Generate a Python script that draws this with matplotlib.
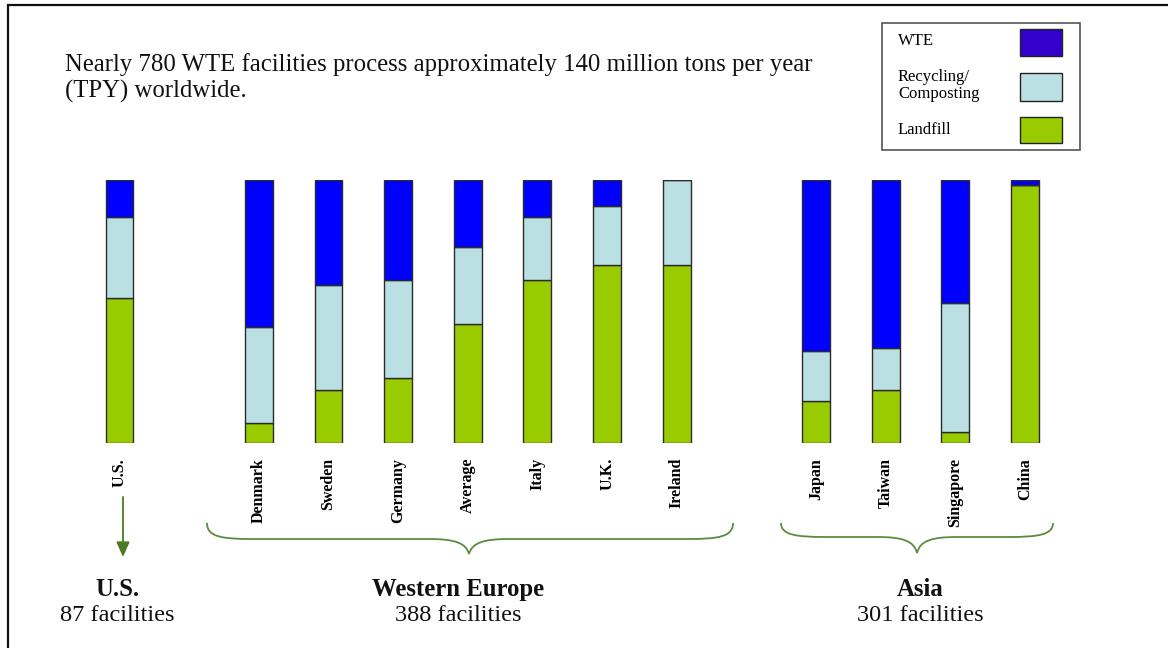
import numpy as np
import matplotlib
matplotlib.use("Agg")
import matplotlib.pyplot as plt
from matplotlib.path import Path
from matplotlib.patches import PathPatch, Rectangle

plt.rcParams["font.family"] = ["Liberation Serif", "DejaVu Serif"]

# Share of municipal solid waste by treatment route [%]
countries = ["U.S.", "Denmark", "Sweden", "Germany", "Average", "Italy",
             "U.K.", "Ireland", "Japan", "Taiwan", "Singapore", "China"]
slots = [0, 2, 3, 4, 5, 6, 7, 8, 10, 11, 12, 13]
wte = [14, 56, 40, 38, 25.5, 14, 10, 0, 65, 64, 47, 2]
recycling = [31, 36.5, 40, 37.5, 29.5, 24, 22.5, 32.5, 19, 16, 49, 0]
landfill = [55, 7.5, 20, 24.5, 45, 62, 67.5, 67.5, 16, 20, 4, 98]

regions = ["U.S.", "Western Europe", "Asia"]
facilities = ["87 facilities", "388 facilities", "301 facilities"]

c_wte = "#0000FF"
c_wte_key = "#3300CC"
c_rec = "#BBE0E3"
c_land = "#99CC00"
c_green = "#5B8C3E"

W, H = 1168, 648
fig = plt.figure(figsize=(W / 100, H / 100), dpi=100)

# overlay in pixel units for the frame, key, braces and captions
ov = fig.add_axes([0, 0, 1, 1])
ov.set_xlim(0, W)
ov.set_ylim(H, 0)
ov.axis("off")

ov.plot([7.5, 7.5, W], [H, 5, 5], color="#111111", lw=1.6,
        solid_joinstyle="miter")

ov.text(65, 71, "Nearly 780 WTE facilities process approximately 140 million tons per year",
        fontsize=17.8, va="baseline", ha="left", color="#111111")
ov.text(65, 97.5, "(TPY) worldwide.", fontsize=17.8, va="baseline", ha="left",
        color="#111111")

# key box
ov.add_patch(Rectangle((882, 23), 198, 127, fill=False, ec="#555555", lw=1.2))
swatches = [(c_wte_key, 29, 27), (c_rec, 73, 28), (c_land, 117, 26)]
for col, ytop, hgt in swatches:
    ov.add_patch(Rectangle((1020, ytop), 42, hgt, fc=col, ec="#222222", lw=1.0))
for label, ytxt in [("WTE", 41), ("Recycling/", 77), ("Composting", 94.5),
                    ("Landfill", 130)]:
    ov.text(898, ytxt, label, fontsize=12, va="center", ha="left")

# stacked bars
ax = fig.add_axes([84.7 / W, (H - 442.7) / H, 975.1 / W, 262.7 / H])
ax.patch.set_alpha(0)
bottom_rec = np.array(landfill)
bottom_wte = bottom_rec + np.array(recycling)
ax.bar(slots, landfill, width=0.4, color=c_land, edgecolor="#2a2a2a", lw=1.0)
ax.bar(slots, recycling, width=0.4, bottom=bottom_rec, color=c_rec,
       edgecolor="#2a2a2a", lw=1.0)
ax.bar(slots, wte, width=0.4, bottom=bottom_wte, color=c_wte,
       edgecolor="#2a2a2a", lw=1.0)
ax.set_xlim(-0.5, 13.5)
ax.set_ylim(0, 100)
ax.set_xticks(slots, countries, rotation=90, fontweight="bold", fontsize=11.5)
ax.tick_params(axis="x", length=0, pad=11)
ax.set_yticks([])
for s in ax.spines.values():
    s.set_visible(False)


def brace(x0, x1, xm, y_top, y_flat, y_tip):
    verts = [(x0, y_top),
             (x0, y_flat - 2), (x0 + 15, y_flat), (x0 + 45, y_flat),
             (xm - 40, y_flat),
             (xm - 14, y_flat), (xm - 3, y_flat + 4), (xm, y_tip),
             (xm + 3, y_flat + 4), (xm + 14, y_flat), (xm + 40, y_flat),
             (x1 - 45, y_flat),
             (x1 - 15, y_flat), (x1, y_flat - 2), (x1, y_top)]
    codes = [Path.MOVETO] + [Path.CURVE4] * 3 + [Path.LINETO] + [Path.CURVE4] * 6 \
        + [Path.LINETO] + [Path.CURVE4] * 3
    ov.add_patch(PathPatch(Path(verts, codes), fill=False, ec=c_green, lw=1.3))


brace(207, 733, 469, 523, 539, 554)
brace(781, 1053, 917, 523, 537, 553)

ov.annotate("", xy=(123, 557), xytext=(123, 497),
            arrowprops=dict(arrowstyle="-|>,head_length=0.9,head_width=0.4",
                            color="#4A7A23", lw=1.3, shrinkA=0, shrinkB=0))

for cx, reg, fac in zip([117, 458, 920], regions, facilities):
    ov.text(cx, 596, reg, fontsize=17.8, fontweight="bold", ha="center",
            va="baseline", color="#111111")
    ov.text(cx, 621, fac, fontsize=17.6, ha="center", va="baseline",
            color="#111111")

fig.savefig("out.png", dpi=100)
